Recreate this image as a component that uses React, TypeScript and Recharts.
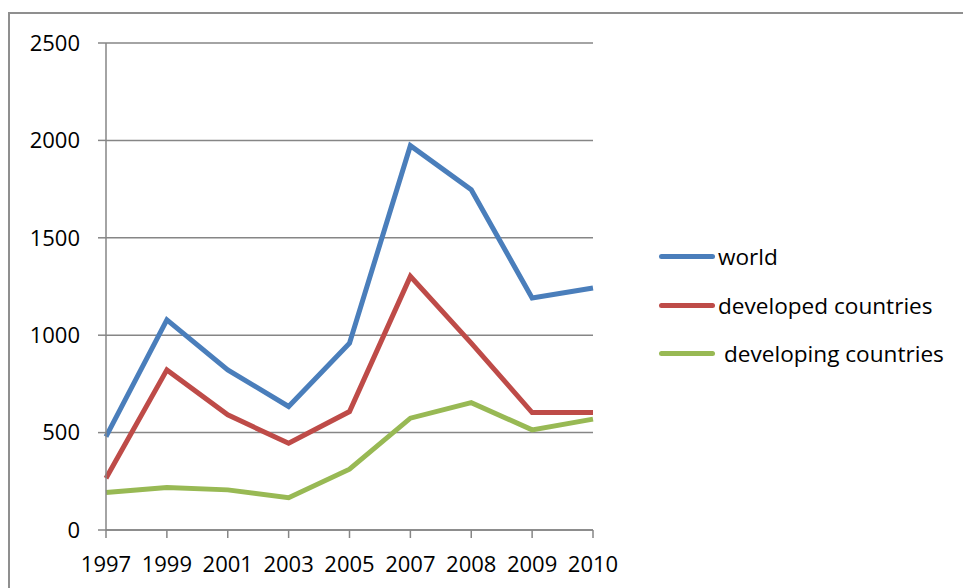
import React from 'react';
import { LineChart, Line, XAxis, YAxis, CartesianGrid } from 'recharts';

const years = ['1997', '1999', '2001', '2003', '2005', '2007', '2008', '2009', '2010'];
const world = [479, 1079, 822, 634, 959, 1973, 1747, 1191, 1242];
const developed = [266, 822, 591, 445, 608, 1302, 959, 603, 603];
const developing = [192, 218, 206, 166, 312, 574, 654, 514, 569];
const yTicks = [0, 500, 1000, 1500, 2000, 2500];

const seriesNames = ['world', 'developed countries', 'developing countries'];
const seriesColors = ['#4A7EBB', '#BE4B48', '#98B954'];

const data = years.map((year, i) => ({
  year,
  world: world[i],
  developed: developed[i],
  developing: developing[i],
}));

const FONT = '"Open Sans", sans-serif';
const AXIS = '#868686';

// legend sits to the right of the plot, like the Excel original
const ChartLegend = () => (
  <div
    style={{
      position: 'absolute',
      left: 659,
      top: 232,
      fontFamily: FONT,
      fontSize: 22.6,
      color: '#000',
    }}
  >
    {seriesNames.map((name, i) => (
      <div key={name} style={{ display: 'flex', alignItems: 'center', height: 48.7 }}>
        <div
          style={{
            width: 56,
            height: 5,
            borderRadius: 3,
            background: seriesColors[i],
            marginRight: i === 2 ? 9 : 3,
          }}
        />
        <span>{name}</span>
      </div>
    ))}
  </div>
);

export default function App() {
  return (
    <div
      style={{
        position: 'absolute',
        left: 0,
        top: 0,
        width: 963,
        height: 588,
        background: '#fff',
        overflow: 'hidden',
      }}
    >
      <div
        style={{
          position: 'absolute',
          left: 8,
          top: 12,
          width: 1000,
          height: 700,
          borderTop: '2px solid #8f8f8f',
          borderLeft: '2px solid #8f8f8f',
        }}
      />
      <div style={{ position: 'absolute', left: 0, top: 0 }}>
        <LineChart
          width={963}
          height={588}
          data={data}
          margin={{ top: 43, right: 370, bottom: 0, left: 26 }}
        >
          <CartesianGrid vertical={false} stroke={AXIS} strokeWidth={1.5} />
          <XAxis
            dataKey="year"
            interval={0}
            padding={{ left: 0, right: 0 }}
            height={58}
            stroke={AXIS}
            strokeWidth={1.5}
            tickSize={8}
            tickMargin={18}
            tick={{ fontFamily: FONT, fontSize: 22, fill: '#000' }}
          />
          <YAxis
            domain={[0, 2500]}
            ticks={yTicks}
            width={80}
            stroke={AXIS}
            strokeWidth={1.5}
            tickSize={8}
            tickMargin={18}
            tick={{ fontFamily: FONT, fontSize: 22, fill: '#000' }}
          />
          <Line type="linear" dataKey="world" stroke={seriesColors[0]} strokeWidth={5} dot={false} isAnimationActive={false} />
          <Line type="linear" dataKey="developed" stroke={seriesColors[1]} strokeWidth={5} dot={false} isAnimationActive={false} />
          <Line type="linear" dataKey="developing" stroke={seriesColors[2]} strokeWidth={5} dot={false} isAnimationActive={false} />
        </LineChart>
      </div>
      <ChartLegend />
    </div>
  );
}
